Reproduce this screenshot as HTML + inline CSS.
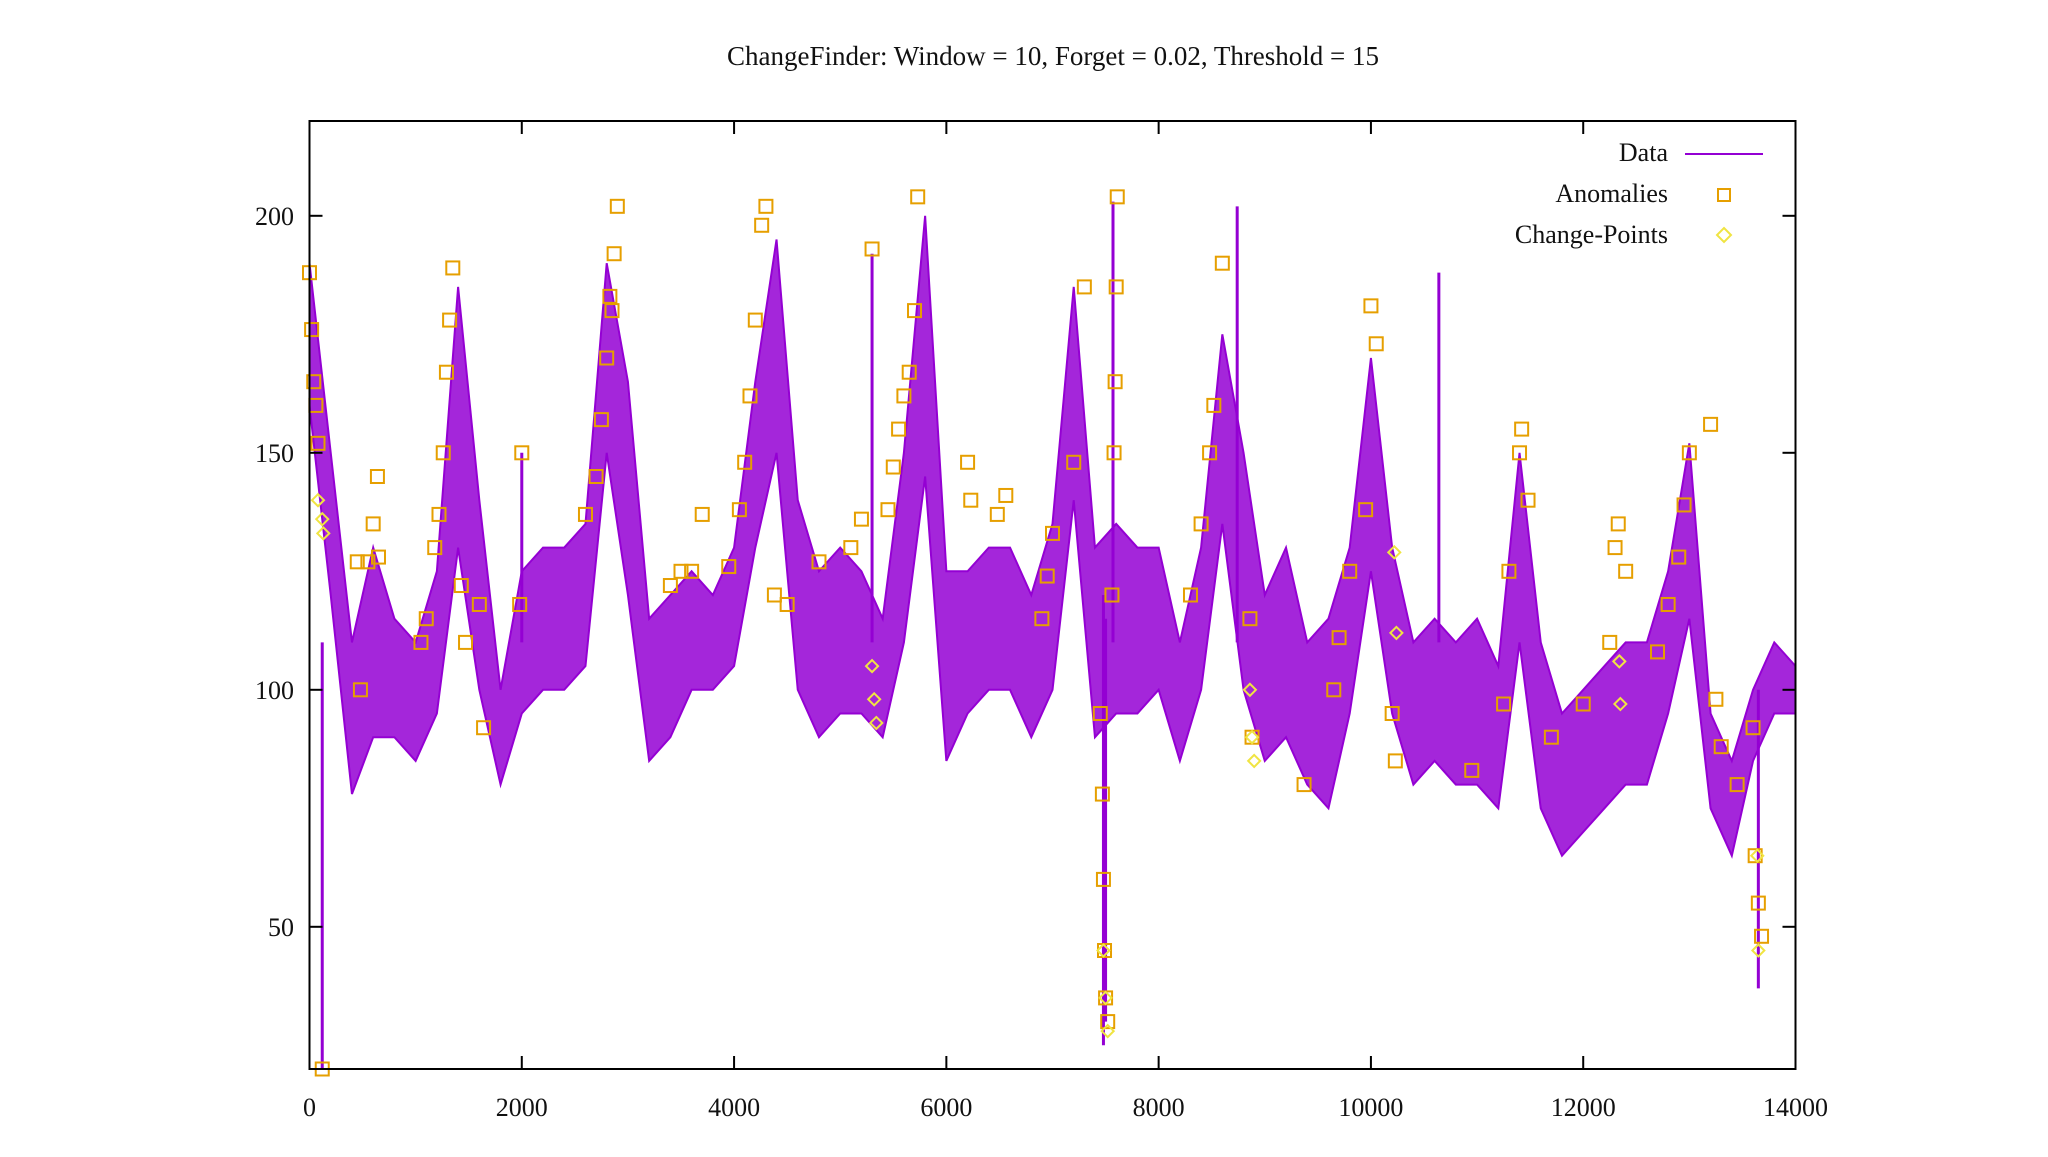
<!DOCTYPE html>
<html><head><meta charset="utf-8"><style>
body{margin:0;background:#fff}
svg text{font-family:"Liberation Serif",serif;fill:#111}
</style></head><body>
<svg id="chart" width="2048" height="1152" xmlns="http://www.w3.org/2000/svg">
<text x="1053" y="65" font-size="27" text-anchor="middle">ChangeFinder: Window = 10, Forget = 0.02, Threshold = 15</text>
<g id="plot"></g>
<g id="axes"></g>
<g id="legend">
<text x="1668" y="161" font-size="26" text-anchor="end">Data</text>
<line x1="1685" y1="154" x2="1763" y2="154" stroke="#9400d3" stroke-width="2"/>
<text x="1668" y="202" font-size="26" text-anchor="end">Anomalies</text>
<rect x="1718" y="189" width="12" height="12" fill="none" stroke="#e69f00" stroke-width="2"/>
<text x="1668" y="243" font-size="26" text-anchor="end">Change-Points</text>
<path d="M1724 228 L1731 235 L1724 242 L1717 235 Z" fill="none" stroke="#f0e442" stroke-width="2"/>
</g>
</svg>
<script>
const xs = [0,200,400,600,800,1000,1200,1400,1600,1800,2000,2200,2400,2600,2800,3000,3200,3400,3600,3800,4000,4200,4400,4600,4800,5000,5200,5400,5600,5800,6000,6200,6400,6600,6800,7000,7200,7400,7600,7800,8000,8200,8400,8600,8800,9000,9200,9400,9600,9800,10000,10200,10400,10600,10800,11000,11200,11400,11600,11800,12000,12200,12400,12600,12800,13000,13200,13400,13600,13800,14000];
const hi = [190,150,110,130,115,110,125,185,140,100,125,130,130,135,190,165,115,120,125,120,130,165,195,140,125,130,125,115,150,200,125,125,130,130,120,135,185,130,135,130,130,110,130,175,150,120,130,110,115,130,170,130,110,115,110,115,105,150,110,95,100,105,110,110,125,152,95,85,100,110,105];
const lo = [160,120,78,90,90,85,95,130,100,80,95,100,100,105,150,120,85,90,100,100,105,130,150,100,90,95,95,90,110,145,85,95,100,100,90,100,140,90,95,95,100,85,100,135,100,85,90,80,75,95,125,95,80,85,80,80,75,110,75,65,70,75,80,80,95,115,75,65,85,95,95];
const spikeX = [120,2000,5300,7570,10640,8740,7480,7500,13650];
const spikeY = [20,150,192,203,188,202,25,30,37];
const spikeBase = [110,110,110,110,110,110,120,115,100];
const anomX = [0,20,40,60,80,120,450,480,550,600,640,650,1050,1100,1180,1220,1260,1290,1320,1350,1430,1470,1600,1640,1980,2000,2600,2700,2750,2800,2830,2850,2870,2900,3400,3500,3600,3700,3950,4050,4100,4150,4200,4260,4300,4380,4500,4800,5100,5200,5300,5450,5500,5550,5600,5650,5700,5730,6200,6230,6480,6560,6900,6950,7000,7200,7300,7450,7470,7480,7490,7500,7520,7560,7580,7590,7600,7610,8300,8400,8480,8520,8600,8860,8880,9370,9650,9700,9800,9950,10000,10050,10200,10230,10950,11250,11300,11400,11420,11480,11700,12000,12250,12300,12330,12400,12700,12800,12900,12950,13000,13200,13250,13300,13450,13600,13620,13650,13680];
const anomY = [188,176,165,160,152,20,127,100,127,135,145,128,110,115,130,137,150,167,178,189,122,110,118,92,118,150,137,145,157,170,183,180,192,202,122,125,125,137,126,138,148,162,178,198,202,120,118,127,130,136,193,138,147,155,162,167,180,204,148,140,137,141,115,124,133,148,185,95,78,60,45,35,30,120,150,165,185,204,120,135,150,160,190,115,90,80,100,111,125,138,181,173,95,85,83,97,125,150,155,140,90,97,110,130,135,125,108,118,128,139,150,156,98,88,80,92,65,55,48,110];
const cpX = [80,120,130,5300,5320,5340,7480,7500,7520,8860,8880,8900,10220,10240,12340,12350,13640,13650];
const cpY = [140,136,133,105,98,93,45,35,28,100,90,85,129,112,106,97,65,45];

const L=309.5,R=1795.5,T=121,B=1069,X0=0,X1=14000,Y0=20,Y1=220;
const sx=v=>L+(v-X0)/(X1-X0)*(R-L);
const sy=v=>B-(v-Y0)/(Y1-Y0)*(B-T);
const NS='http://www.w3.org/2000/svg';
const plot=document.getElementById('plot'), axes=document.getElementById('axes');
function mk(tag,attrs,parent){const e=document.createElementNS(NS,tag);for(const k in attrs)e.setAttribute(k,attrs[k]);parent.appendChild(e);return e;}

let d='M'+sx(xs[0])+' '+sy(hi[0]);
for(let i=1;i<xs.length;i++) d+=' L'+sx(xs[i])+' '+sy(hi[i]);
for(let i=xs.length-1;i>=0;i--) d+=' L'+sx(xs[i])+' '+sy(lo[i]);
d+=' Z';
const band=mk('path',{d:d,fill:'#9400d3','fill-opacity':'0.85',stroke:'#9400d3','stroke-width':'2'},plot);


for(let i=0;i<spikeX.length;i++){
  const s=mk('line',{x1:sx(spikeX[i]),x2:sx(spikeX[i]),y1:sy(spikeY[i]),y2:sy(spikeBase[i]),stroke:'#9400d3','stroke-width':'3'},plot);
  
  
}
for(let i=0;i<anomX.length;i++){
  const r=mk('rect',{x:sx(anomX[i])-6.5,y:sy(anomY[i])-6.5,width:13,height:13,fill:'none',stroke:'#e69f00','stroke-width':'2'},plot);
  
  
}
for(let i=0;i<cpX.length;i++){
  const x=sx(cpX[i]),y=sy(cpY[i]);
  const p=mk('path',{d:`M${x} ${y-6} L${x+6} ${y} L${x} ${y+6} L${x-6} ${y} Z`,fill:'none',stroke:'#f0e442','stroke-width':'2'},plot);
  
  
}
const frame=mk('rect',{x:L,y:T,width:R-L,height:B-T,fill:'none',stroke:'#000','stroke-width':'2'},axes);


const xTicks=[0,2000,4000,6000,8000,10000,12000,14000];
const yTicks=[50,100,150,200];
xTicks.forEach(v=>{
  const x=sx(v);
  mk('line',{x1:x,x2:x,y1:B,y2:B-13,stroke:'#000','stroke-width':'2'},axes);
  mk('line',{x1:x,x2:x,y1:T,y2:T+13,stroke:'#000','stroke-width':'2'},axes);
  const t=mk('text',{x:x,y:1116,'font-size':'26','text-anchor':'middle'},axes);
  t.textContent=v;
  
  
});
yTicks.forEach(v=>{
  const y=sy(v);
  mk('line',{x1:L,x2:L+13,y1:y,y2:y,stroke:'#000','stroke-width':'2'},axes);
  mk('line',{x1:R,x2:R-13,y1:y,y2:y,stroke:'#000','stroke-width':'2'},axes);
  const t=mk('text',{x:294,y:y+9,'font-size':'26','text-anchor':'end'},axes);
  t.textContent=v;
  
  
});
</script>
</body></html>
